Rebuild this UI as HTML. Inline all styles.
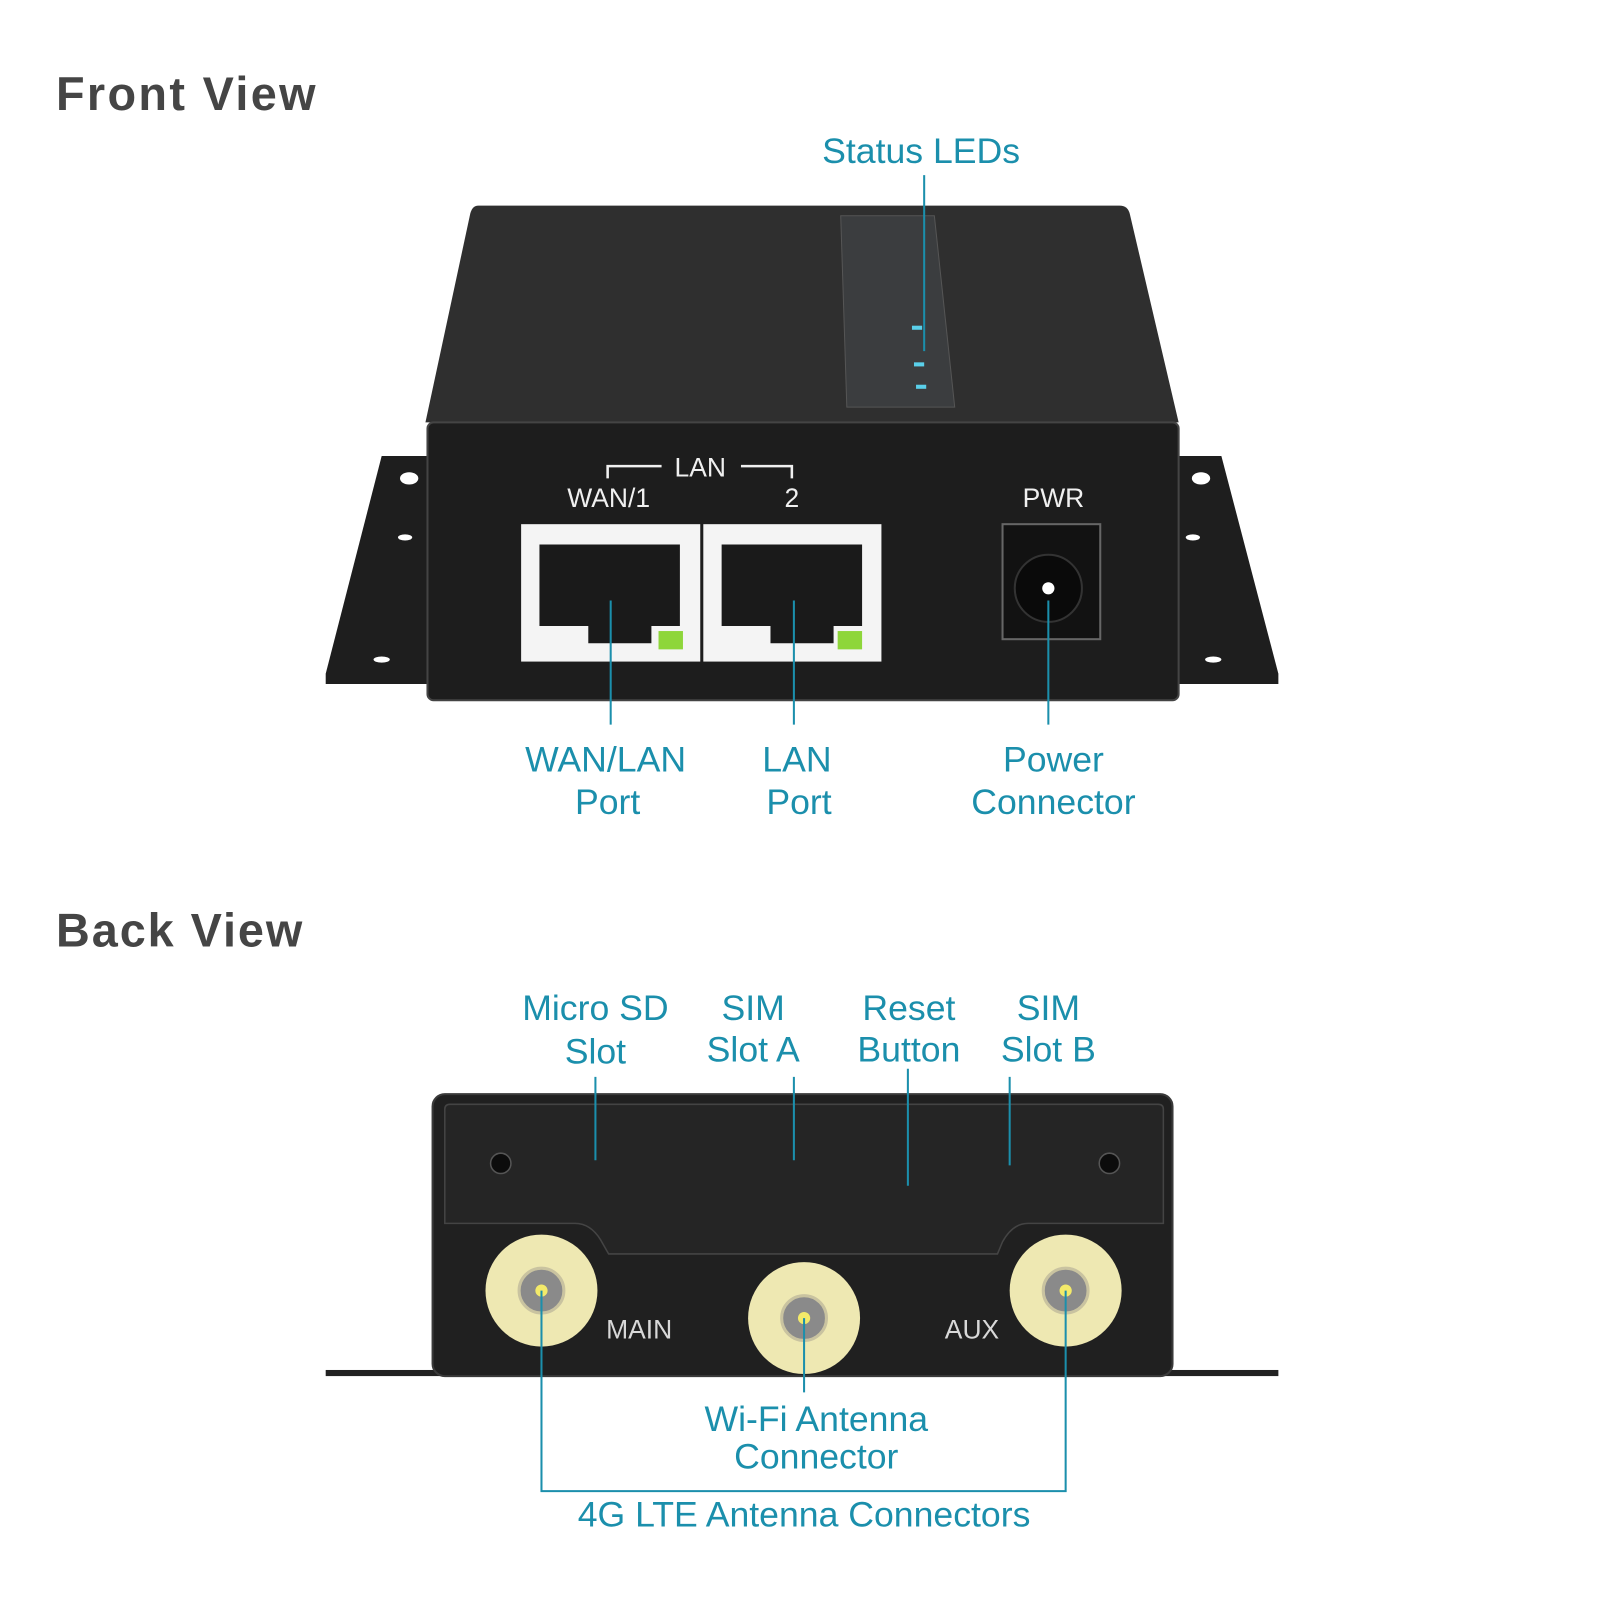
<!DOCTYPE html>
<html><head><meta charset="utf-8"><style>html,body{margin:0;padding:0;background:#fff;width:1600px;height:1600px;overflow:hidden}svg{display:block}</style></head>
<body>
<svg width="1600" height="1600" viewBox="0 0 1572 1572" xmlns="http://www.w3.org/2000/svg" font-family="'Liberation Sans', sans-serif">
<rect width="1572" height="1572" fill="#fff"/>
<text x="55" y="108" font-size="46" font-weight="bold" fill="#454545" textLength="255">Front View</text>
<text x="55" y="930" font-size="46" font-weight="bold" fill="#454545" textLength="242">Back View</text>
<g fill="#1b8fac" font-size="35" text-anchor="middle">
<text x="905" y="160">Status LEDs</text>
<text x="595" y="758">WAN/LAN</text><text x="597" y="800">Port</text>
<text x="783" y="758">LAN</text><text x="785" y="800">Port</text>
<text x="1035" y="758">Power</text><text x="1035" y="800">Connector</text>
<text x="585" y="1002">Micro SD</text><text x="585" y="1045">Slot</text>
<text x="740" y="1002">SIM</text><text x="740" y="1043">Slot A</text>
<text x="893" y="1002">Reset</text><text x="893" y="1043">Button</text>
<text x="1030" y="1002">SIM</text><text x="1030" y="1043">Slot B</text>
<text x="802" y="1406">Wi-Fi Antenna</text><text x="802" y="1443">Connector</text>
<text x="790" y="1500">4G LTE Antenna Connectors</text>
</g>
<polygon points="375,448 420,448 420,672 320,672 320,662" fill="#1e1e1e"/>
<polygon points="1158,448 1200,448 1256,662 1256,672 1158,672" fill="#1e1e1e"/>
<g fill="#fff"><ellipse cx="402" cy="470" rx="9" ry="6"/><ellipse cx="398" cy="528" rx="7" ry="3"/><ellipse cx="375" cy="648" rx="8" ry="3"/>
<ellipse cx="1180" cy="470" rx="9" ry="6"/><ellipse cx="1172" cy="528" rx="7" ry="3"/><ellipse cx="1192" cy="648" rx="8" ry="3"/></g>
<path d="M470,202 L1100,202 Q1108,202 1110,210 L1158,415 L418,415 L462,210 Q464,202 470,202Z" fill="#2f2f2f"/>
<polygon points="826,212 918,212 938,400 832,400" fill="#3b3d3f" stroke="#555" stroke-width="1"/>
<g fill="#5ad0ea"><rect x="896" y="320" width="10" height="4"/><rect x="898" y="356" width="10" height="4"/><rect x="900" y="378" width="10" height="4"/></g>
<rect x="420" y="415" width="738" height="273" rx="6" fill="#1d1d1d" stroke="#444" stroke-width="2"/>
<g fill="#f0f0f0" font-size="26" text-anchor="middle">
<text x="688" y="468">LAN</text><text x="598" y="498">WAN/1</text><text x="778" y="498">2</text><text x="1035" y="498">PWR</text></g>
<path d="M597,470 V458 H650 M728,458 H778 V470" stroke="#f0f0f0" stroke-width="2.5" fill="none"/>
<g>
<rect x="512" y="515" width="176" height="135" fill="#f4f4f4"/>
<path d="M530,535 H668 V615 H640 V632 H578 V615 H530Z" fill="#1a1a1a"/>
<rect x="647" y="620" width="24" height="18" fill="#8ed63a"/>
<rect x="691" y="515" width="175" height="135" fill="#f4f4f4"/>
<path d="M709,535 H847 V615 H819 V632 H757 V615 H709Z" fill="#1a1a1a"/>
<rect x="823" y="620" width="24" height="18" fill="#8ed63a"/>
</g>
<rect x="985" y="515" width="96" height="113" fill="#121212" stroke="#666" stroke-width="2"/>
<circle cx="1030" cy="578" r="33" fill="#0a0a0a" stroke="#333" stroke-width="2"/>
<circle cx="1030" cy="578" r="6" fill="#fff"/>
<g stroke="#1b8fac" stroke-width="2" fill="none">
<line x1="908" y1="172" x2="908" y2="345"/>
<line x1="600" y1="590" x2="600" y2="712"/>
<line x1="780" y1="590" x2="780" y2="712"/>
<line x1="1030" y1="590" x2="1030" y2="712"/>
</g>
<rect x="320" y="1346" width="936" height="6" fill="#222"/>
<rect x="425" y="1075" width="727" height="277" rx="12" fill="#202020" stroke="#3a3a3a" stroke-width="2"/>
<path d="M437,1090 Q437,1085 442,1085 H1138 Q1143,1085 1143,1090 V1202 H1010 Q995,1202 985,1220 L980,1232 H598 L590,1218 Q580,1202 565,1202 H437Z" fill="#252525" stroke="#444" stroke-width="1.5"/>
<g fill="#0c0c0c" stroke="#555" stroke-width="1.5"><circle cx="492" cy="1143" r="10"/><circle cx="1090" cy="1143" r="10"/></g>
<g fill="#eee8b2">
<circle cx="532" cy="1268" r="55"/><circle cx="790" cy="1295" r="55"/><circle cx="1047" cy="1268" r="55"/></g>
<g fill="#8a8a8a" stroke="#c9c3a0" stroke-width="3">
<circle cx="532" cy="1268" r="22"/><circle cx="790" cy="1295" r="22"/><circle cx="1047" cy="1268" r="22"/></g>
<g fill="#f3ea6a"><circle cx="532" cy="1268" r="6"/><circle cx="790" cy="1295" r="6"/><circle cx="1047" cy="1268" r="6"/></g>
<g fill="#d8d8d8" font-size="26" text-anchor="middle"><text x="628" y="1315">MAIN</text><text x="955" y="1315">AUX</text></g>
<g stroke="#1b8fac" stroke-width="2" fill="none">
<line x1="585" y1="1058" x2="585" y2="1140"/>
<line x1="780" y1="1058" x2="780" y2="1140"/>
<line x1="892" y1="1050" x2="892" y2="1165"/>
<line x1="992" y1="1058" x2="992" y2="1145"/>
<path d="M532,1268 V1465 H1047 V1268"/>
<line x1="790" y1="1295" x2="790" y2="1368"/>
</g>
</svg>
</body></html>
